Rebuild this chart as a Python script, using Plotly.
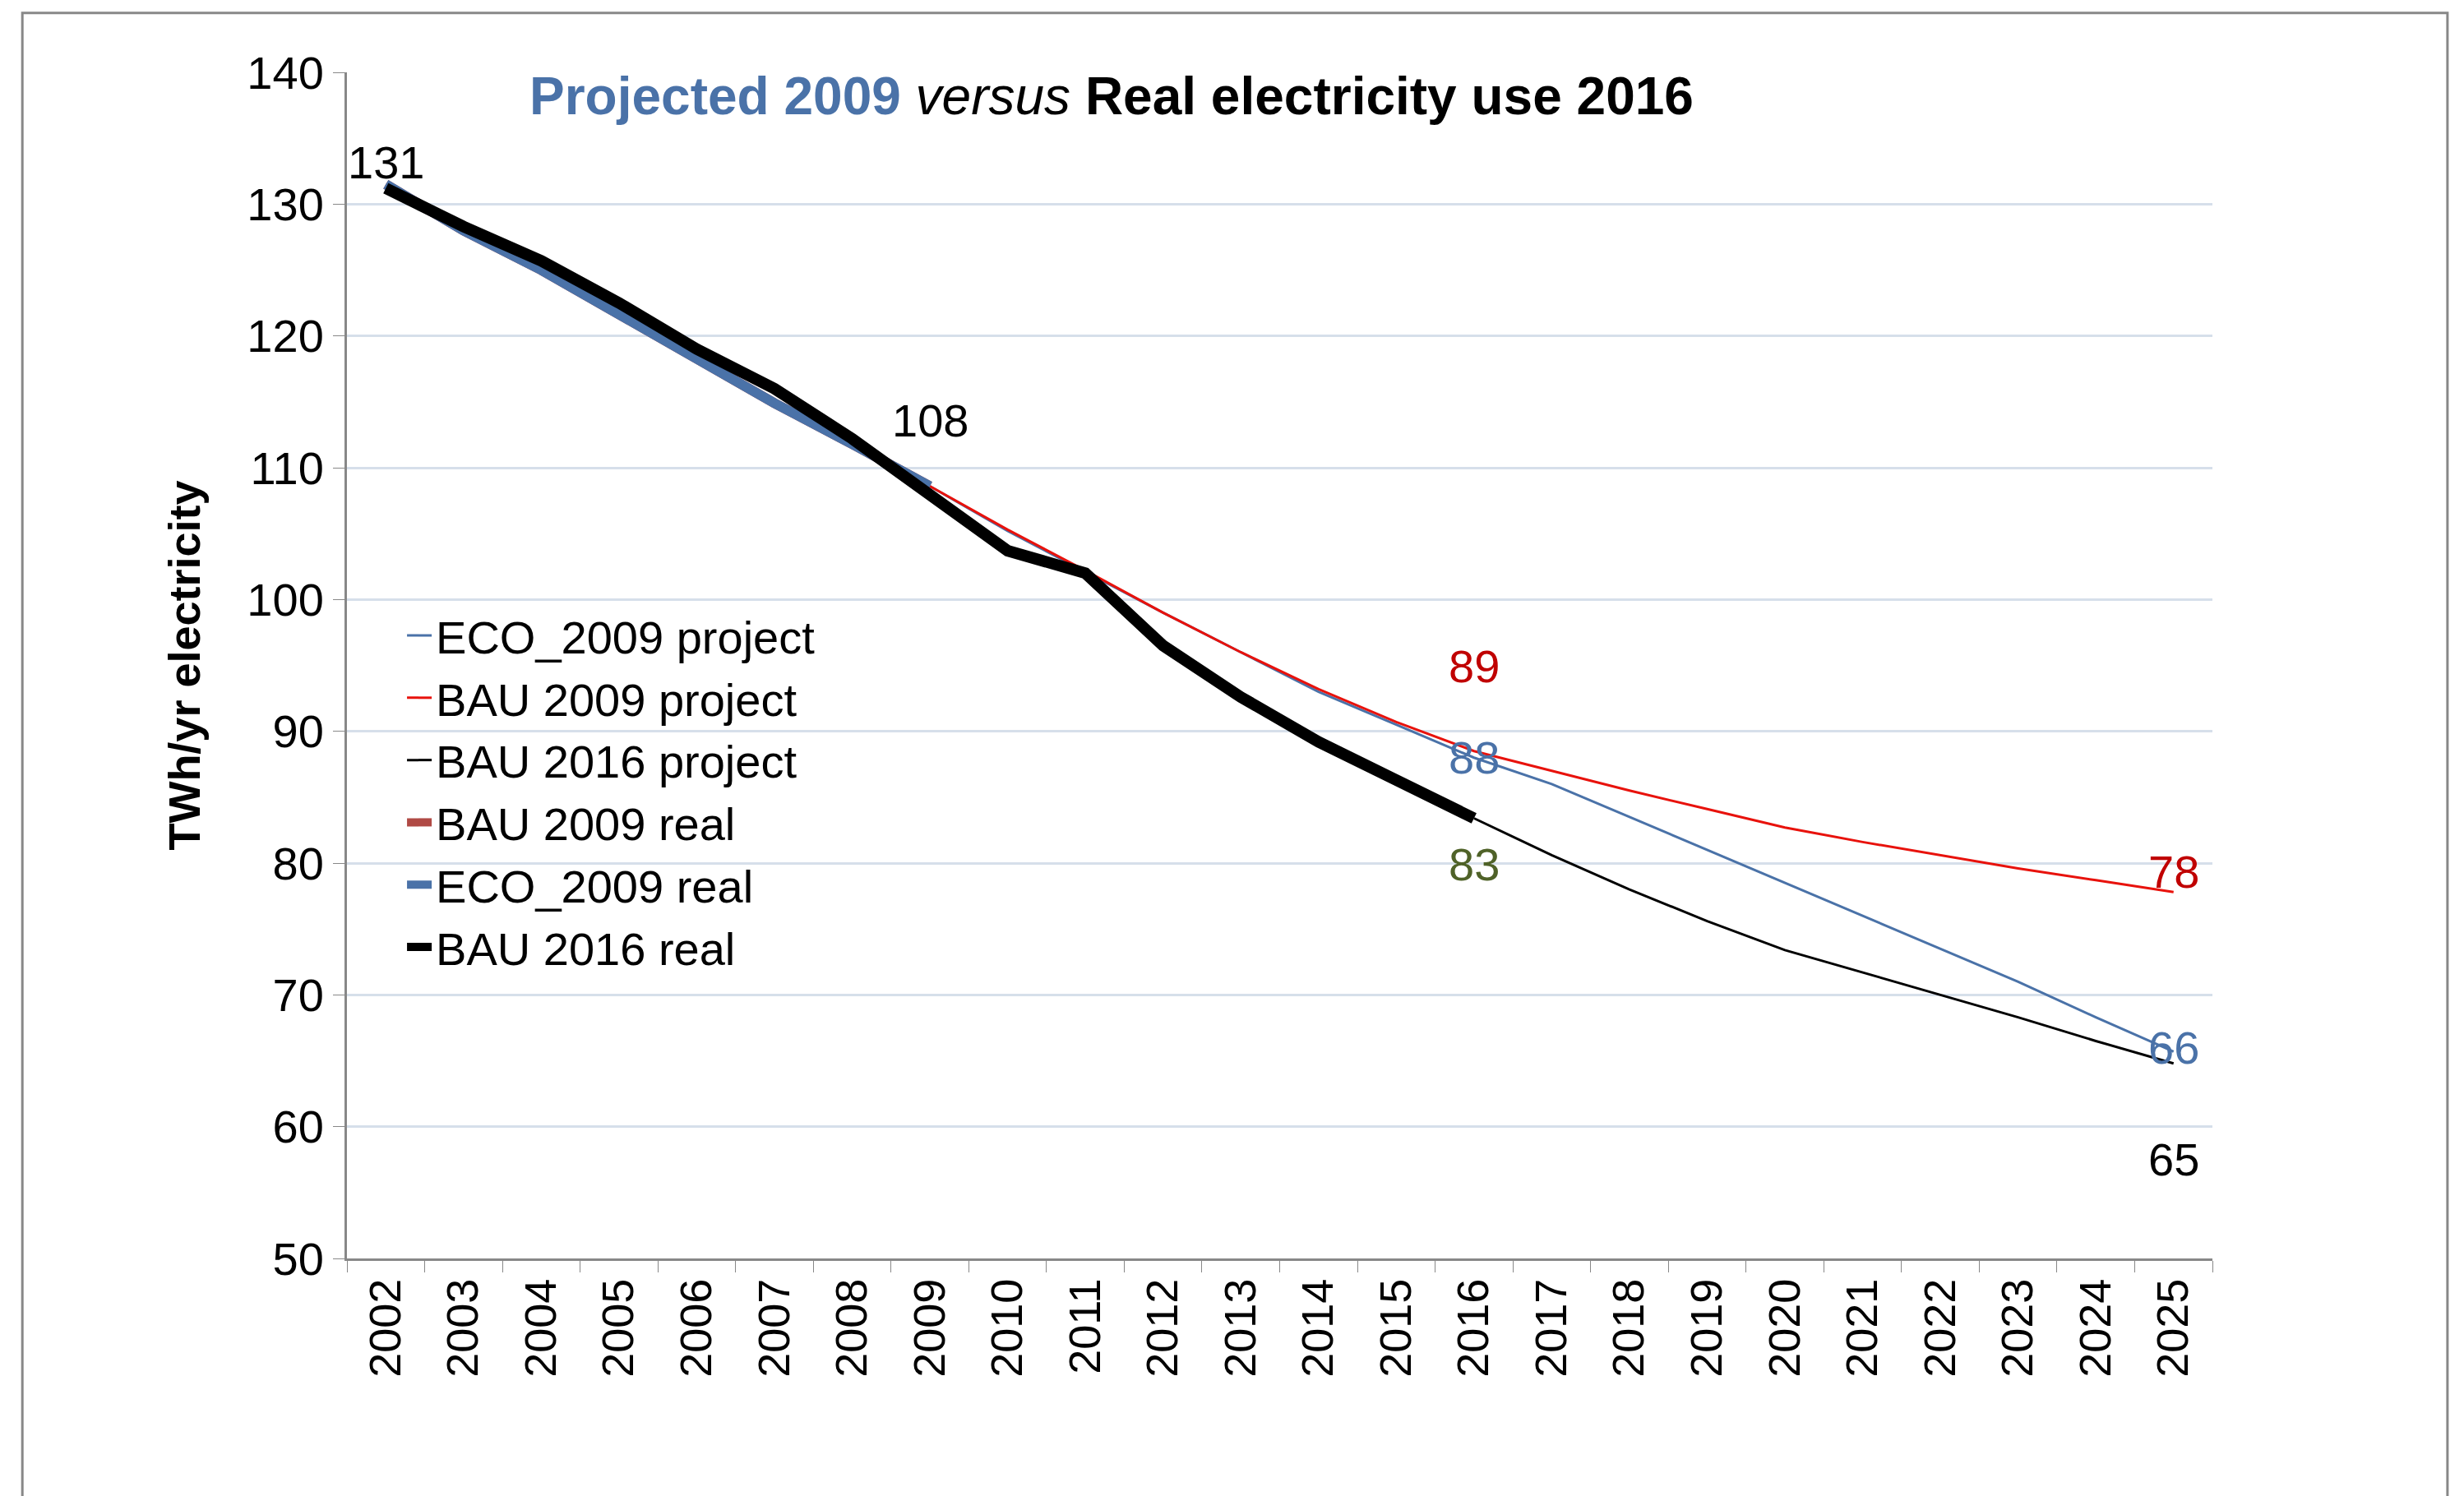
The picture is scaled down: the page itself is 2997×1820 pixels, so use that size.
import plotly.graph_objects as go

years = [str(y) for y in range(2002, 2026)]

bau2016_real = [131.2, 128.3, 125.7, 122.5, 119.0, 116.0, 112.2, 108.0, 103.7, 102.0,
                96.5, 92.6, 89.2, 86.3, 83.4]
eco2009_real = [131.5, 128.0, 125.0, 121.6, 118.2, 114.9, 111.8, 108.6]
eco2009_proj = [131.5, 128.0, 125.0, 121.6, 118.2, 114.9, 111.8, 108.6, 105.2, 102.1,
                99.0, 96.0, 93.0, 90.5, 88.0, 86.0, 83.5, 81.0, 78.5, 76.0,
                73.5, 71.0, 68.3, 65.7]
bau2009_proj = [108.6, 105.3, 102.2, 99.0, 96.0, 93.2, 90.7, 88.5, 87.0, 85.5,
                84.1, 82.7, 81.6, 80.6, 79.6, 78.7, 77.8]
bau2016_proj = [83.4, 80.6, 78.0, 75.6, 73.4, 71.7, 70.0, 68.3, 66.5, 64.8]

BLUE = "#4a72a8"
RED = "#e8120c"
DARKRED = "#c00000"
BROWN = "#b04a45"
GREEN = "#4f6228"
FONT = "Liberation Sans"

fig = go.Figure()
traces = [
    (years, eco2009_proj, "ECO_2009 project", BLUE, 3),
    (years[7:], bau2009_proj, "BAU 2009 project", RED, 3),
    (years[14:], bau2016_proj, "BAU 2016 project", "black", 3),
    (years[:8], eco2009_real, "BAU 2009 real", BROWN, 12),
    (years[:8], eco2009_real, "ECO_2009 real", BLUE, 12),
    (years[:15], bau2016_real, "BAU 2016 real", "black", 14),
]
for x, y, name, c, w in traces:
    fig.add_trace(go.Scatter(x=x, y=y, mode="lines", name=name, legendgroup=name,
                             line=dict(color=c, width=w)))

labels = [
    ("2002", 131, "131", "black", 35),
    ("2009", 108, "108", "black", 90),
    ("2016", 89, "89", DARKRED, 95),
    ("2016", 88, "88", BLUE, 0),
    ("2016", 83, "83", GREEN, -50),
    ("2025", 78, "78", DARKRED, 22),
    ("2025", 66, "66", BLUE, 0),
    ("2025", 65, "65", "black", -120),
]
for x, y, t, c, dy in labels:
    fig.add_annotation(x=years.index(x), y=y, text=t, showarrow=False, yshift=dy,
                       font=dict(size=56, color=c, family=FONT))

fig.add_annotation(
    xref="paper", yref="paper", x=0.41, y=0.98, xanchor="center", yanchor="middle",
    showarrow=False,
    text=(f"<b><span style='color:{BLUE}'>Projected 2009</span></b> <i>versus</i> "
          "<b>Real electricity use 2016</b>"),
    font=dict(size=64, color="black", family=FONT))

fig.update_layout(
    width=2997, height=1820,
    plot_bgcolor="white", paper_bgcolor="white",
    margin=dict(l=414, r=314, t=80, b=297),
    font=dict(family=FONT, size=56, color="black"),
    showlegend=True,
    legend=dict(x=0.03, y=0.555, xanchor="left", yanchor="top", traceorder="normal",
                bgcolor="rgba(0,0,0,0)", font=dict(size=56), tracegroupgap=24),
    shapes=[dict(type="rect", xref="paper", yref="paper", x0=-0.174, x1=1.126,
                 y0=-0.21, y1=1.05, line=dict(color="#888888", width=3))],
)
fig.update_xaxes(type="category", range=[-0.5, 23.5], tickangle=-90, tickson="boundaries",
                 ticks="outside", ticklen=14, tickcolor="#888888", showline=True,
                 linecolor="#888888", linewidth=3, showgrid=False, tickfont=dict(size=54))
fig.update_yaxes(range=[50, 140], dtick=10, ticks="outside", ticklen=14, tickcolor="#888888",
                 showline=True, linecolor="#888888", linewidth=3,
                 gridcolor="#d6dfea", gridwidth=3, tickfont=dict(size=56),
                 title=dict(text="<b>TWh/yr electricity</b>", font=dict(size=54), standoff=40))

fig.write_html("out.html")
